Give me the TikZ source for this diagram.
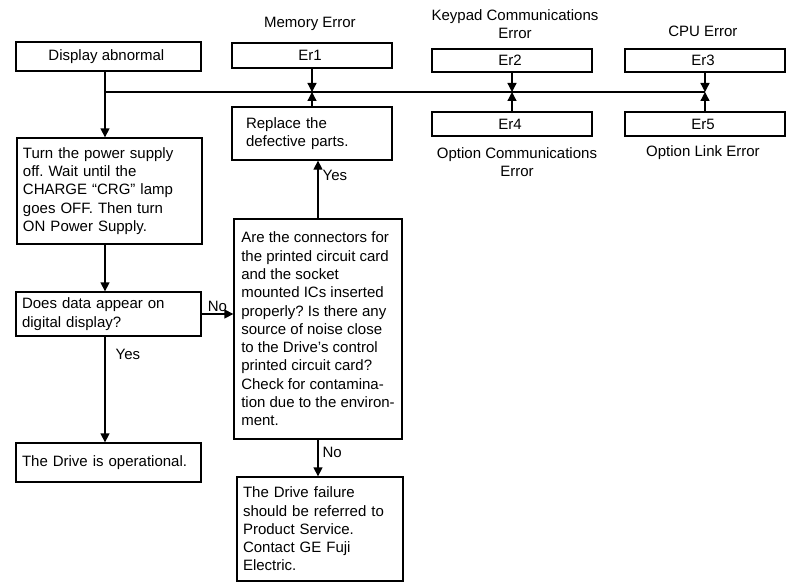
\documentclass[tikz,border=0pt]{standalone}
\usepackage{fontspec}
\setmainfont{Liberation Sans}
\frenchspacing
\usetikzlibrary{
    arrows.meta
}
\tikzset{
    chartbox/.style={
        draw,
        line width=1.3pt,
        inner sep=0pt,
        align=center,
        font=\fontsize{15}{18.3}\selectfont
    },
    notebox/.style={
        chartbox,
        align=left,
        inner xsep=6pt,
        text width=#1
    },
    tag/.style={
        inner sep=2pt,
        font=\fontsize{15}{18.3}\selectfont
    },
    flow/.style={
        line width=1.3pt,
        -{Triangle[length=9pt,width=9pt]}
    }
}

\begin{document}
\begin{tikzpicture}[x=1pt,y=-1pt]
%
    \useasboundingbox
    (0,0)
    rectangle
    (797,583);
%
    % error codes along the top
%
    \node[
        chartbox,
        minimum width=185pt,
        minimum height=29pt
    ]
    (display) at (108.5,56.5) {
        Display abnormal
    };
%
    \node[
        chartbox,
        minimum width=160pt,
        minimum height=25pt
    ]
    (er1) at (312,55.5) {
        Er1
    };
%
    \node[
        chartbox,
        minimum width=160pt,
        minimum height=23pt
    ]
    (er2) at (512,60.5) {
        Er2
    };
%
    \node[
        chartbox,
        minimum width=160pt,
        minimum height=23pt
    ]
    (er3) at (705,60.5) {
        Er3
    };
%
    \node[
        chartbox,
        minimum width=160pt,
        minimum height=24pt
    ]
    (er4) at (512,124) {
        Er4
    };
%
    \node[
        chartbox,
        minimum width=160pt,
        minimum height=24pt
    ]
    (er5) at (705,124) {
        Er5
    };
%
    \node[
        tag,
        align=center
    ]
    (memlabel) at (312,24) {
        Memory Error
    };
%
    \node[
        tag,
        align=center
    ]
    (keylabel) at (515,24) {
        Keypad Communications\\Error
    };
%
    \node[
        tag,
        align=center
    ]
    (cpulabel) at (705,31) {
        CPU Error
    };
%
    \node[
        tag,
        align=center
    ]
    (optlabel) at (517,162) {
        Option Communications\\Error
    };
%
    \node[
        tag,
        align=center
    ]
    (linklabel) at (705,153) {
        Option Link Error
    };
%
    % main checking steps
%
    \node[
        notebox=173pt,
        minimum height=106pt
    ]
    (power) at (109.5,191) {
        Turn the power supply\\
        off. Wait until the\\
        CHARGE “CRG” lamp\\
        goes OFF. Then turn\\
        ON Power Supply.
    };
%
    \node[
        notebox=173pt,
        minimum height=44pt
    ]
    (query) at (108.5,314) {
        Does data appear on\\
        digital display?
    };
%
    \node[
        notebox=173pt,
        minimum height=39pt
    ]
    (oper) at (108.5,462.5) {
        The Drive is operational.
    };
%
    \node[
        notebox=132pt,
        inner xsep=14pt,
        minimum height=53pt
    ]
    (replace) at (312,133.5) {
        Replace the\\
        defective parts.
    };
%
    \node[
        chartbox,
        align=left,
        minimum width=168pt,
        minimum height=220pt
    ]
    (check) at (318,329) {
        Are the connectors for\\
        the printed circuit card\\
        and the socket\\
        mounted ICs inserted\\
        properly? Is there any\\
        source of noise close\\
        to the Drive’s control\\
        printed circuit card?\\
        Check for contamina-\\
        tion due to the environ-\\
        ment.
    };
%
    \node[
        notebox=154pt,
        minimum height=104pt
    ]
    (service) at (320,529) {
        The Drive failure\\
        should be referred to\\
        Product Service.\\
        Contact GE Fuji\\
        Electric.
    };
%
    % common line joining the error codes
%
    \coordinate (trunk) at (105,92);
    \coordinate (busend) at (705,92);
%
    \draw[
        line width=1.3pt
    ]
    (trunk)
    --
    (busend);
%
    \draw[flow]
    (display.south -| trunk)
    --
    (power.north -| trunk);
%
    \draw[flow]
    (power.south -| trunk)
    --
    (query.north -| trunk);
%
    \draw[flow]
    (query.south -| trunk)
    --
    node[tag, anchor=west, xshift=8pt, pos=0.17]{Yes}
    (oper.north -| trunk);
%
    \draw[flow]
    (query.east)
    --
    node[tag, above]{No}
    (query.east -| check.west);
%
    \draw[flow]
    (check.north)
    --
    node[tag, anchor=west, xshift=2pt, pos=0.75]{Yes}
    (check.north |- replace.south);
%
    \draw[flow]
    (check.south)
    --
    node[tag, anchor=west, xshift=2pt, pos=0.34]{No}
    (check.south |- service.north);
%
    \draw[flow]
    (replace.north)
    --
    (replace.north |- trunk);
%
    \draw[flow]
    (er1.south)
    --
    (er1.south |- trunk);
%
    \draw[flow]
    (er2.south)
    --
    (er2.south |- trunk);
%
    \draw[flow]
    (er3.south)
    --
    (er3.south |- trunk);
%
    \draw[flow]
    (er4.north)
    --
    (er4.north |- trunk);
%
    \draw[flow]
    (er5.north)
    --
    (er5.north |- trunk);
%
\end{tikzpicture}
\end{document}
